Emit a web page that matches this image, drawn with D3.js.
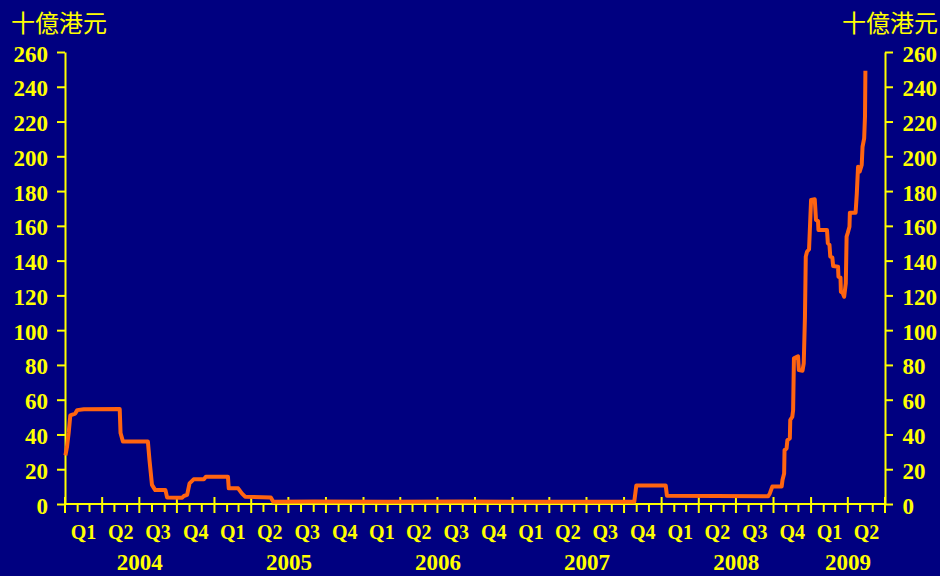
<!DOCTYPE html>
<html>
<head>
<meta charset="utf-8">
<script src="https://cdn.jsdelivr.net/npm/d3@7"></script>
<style>
  html, body { margin: 0; padding: 0; background: #000080; }
  svg { display: block; }
</style>
</head>
<body>
<svg id="chart" width="940" height="576"></svg>
<script>
// ---------------- DATA ----------------
const unitLabel = "十億港元";
const quarterNames = ["Q1", "Q2", "Q3", "Q4"];
const yearLabels = ["2004", "2005", "2006", "2007", "2008", "2009"];
const yTickValues = [0, 20, 40, 60, 80, 100, 120, 140, 160, 180, 200, 220, 240, 260];

const dates = [
  "2004-01-02", "2004-01-06", "2004-01-10", "2004-01-14", "2004-01-26", "2004-01-31",
  "2004-02-16", "2004-05-14", "2004-05-16", "2004-05-22", "2004-07-22", "2004-07-26",
  "2004-08-01", "2004-08-09", "2004-09-03", "2004-09-07", "2004-10-14", "2004-10-18",
  "2004-10-26", "2004-11-01", "2004-11-11", "2004-12-06", "2004-12-11",
  "2005-02-03", "2005-02-05", "2005-02-28", "2005-03-09", "2005-03-17", "2005-05-19",
  "2005-05-25", "2005-09-01", "2006-03-01", "2006-09-01", "2007-03-01", "2007-10-26",
  "2007-10-31", "2008-01-11", "2008-01-14", "2008-09-18", "2008-09-22", "2008-09-28",
  "2008-10-21", "2008-10-23", "2008-10-27", "2008-10-28", "2008-11-02", "2008-11-04",
  "2008-11-10", "2008-11-11", "2008-11-16", "2008-11-18", "2008-11-20", "2008-11-30",
  "2008-12-02", "2008-12-11", "2008-12-14", "2008-12-17", "2008-12-19", "2008-12-22",
  "2008-12-27", "2009-01-01", "2009-01-10", "2009-01-13", "2009-01-18", "2009-01-19",
  "2009-02-09", "2009-02-11", "2009-02-15", "2009-02-17", "2009-02-22", "2009-02-24",
  "2009-03-08", "2009-03-09", "2009-03-14", "2009-03-15", "2009-03-19", "2009-03-23",
  "2009-03-27", "2009-03-29", "2009-04-01", "2009-04-05", "2009-04-06", "2009-04-20",
  "2009-04-23", "2009-04-26", "2009-04-30", "2009-05-05", "2009-05-07", "2009-05-11",
  "2009-05-13", "2009-05-14"
];
const balances = [
  28, 33, 41, 51, 52, 54,
  54.5, 54.6, 40.8, 35.9, 35.9, 25,
  11, 8, 8, 3.8, 3.6, 4.6,
  5.2, 11.9, 14.2, 14.2, 15.7,
  15.7, 9, 9, 6.1, 4.2, 3.8,
  1.3, 1.4, 1.3, 1.4, 1.3, 1.3,
  10.7, 10.7, 4.8, 4.5, 6.1, 10,
  10, 13.8, 17.6, 31, 32, 36.8,
  37.8, 48.3, 50.2, 54, 83.8, 85,
  77, 76.7, 80.9, 107.7, 142.3, 145.1,
  146.5, 174.9, 175.3, 163.4, 162.8, 157.6,
  157.6, 150, 149, 142.3, 141.9, 136.9,
  136.5, 130.8, 130.2, 122.1, 121.5, 119.2,
  127, 153.8, 156.1, 159.5, 167.6, 167.6,
  178.7, 194, 191.2, 195, 205.5, 210.3,
  222.8, 249.2
];

// ---------------- STYLE ----------------
const bg = "#000080";
const yellow = "#ffff00";
const lineColor = "#ff6410";
const serif = "'Liberation Serif', 'Times New Roman', serif";
const cjk = "'Noto Sans CJK TC', 'Noto Sans CJK SC', sans-serif";

const W = 940, H = 576;
const svg = d3.select("#chart");
svg.append("rect").attr("width", W).attr("height", H).attr("fill", bg);

const parse = d3.utcParse("%Y-%m-%d");
const start = parse("2004-01-01"), end = parse("2009-07-01");

const x = d3.scaleUtc().domain([start, end]).range([65, 885]);
const y = d3.scaleLinear().domain([0, 260]).range([504, 52]);

// ---------------- Y AXES ----------------
function styleAxis(g, anchor) {
  g.select(".domain").attr("stroke", yellow).attr("stroke-width", 2);
  g.selectAll(".tick line").attr("stroke", yellow).attr("stroke-width", 2);
  g.selectAll(".tick text")
    .attr("fill", yellow)
    .attr("font-family", serif)
    .attr("font-weight", "bold")
    .attr("font-size", 23)
    .attr("dy", null)
    .attr("y", 9)
    .attr("text-anchor", anchor);
}

const leftAxis = svg.append("g")
  .attr("transform", "translate(65,0)")
  .call(d3.axisLeft(y).tickValues(yTickValues).tickSize(8).tickSizeOuter(0).tickPadding(9).tickFormat(d3.format("d")));
styleAxis(leftAxis, "end");

const rightAxis = svg.append("g")
  .attr("transform", "translate(885,0)")
  .call(d3.axisRight(y).tickValues(yTickValues).tickSize(8).tickSizeOuter(0).tickPadding(9.5).tickFormat(d3.format("d")));
styleAxis(rightAxis, "start");

// ---------------- X AXIS ----------------
const xg = svg.append("g");
xg.append("line")
  .attr("x1", x(start)).attr("x2", x(end))
  .attr("y1", y(0)).attr("y2", y(0))
  .attr("stroke", yellow).attr("stroke-width", 2);

const months = d3.utcMonth.range(start, d3.utcDay.offset(end, 1));
xg.selectAll("line.mt").data(months).join("line")
  .attr("class", "mt")
  .attr("x1", d => x(d)).attr("x2", d => x(d))
  .attr("y1", d => d.getUTCMonth() % 3 === 0 ? y(0) - 7 : y(0))
  .attr("y2", d => d.getUTCMonth() % 3 === 0 ? y(0) + 9 : y(0) + 8)
  .attr("stroke", yellow).attr("stroke-width", 2);

// quarter labels
const quarters = d3.utcMonth.every(3).range(start, end);
xg.selectAll("text.q").data(quarters).join("text")
  .attr("class", "q")
  .attr("x", d => (x(d) + x(d3.utcMonth.offset(d, 3))) / 2)
  .attr("y", 539)
  .attr("text-anchor", "middle")
  .attr("fill", yellow)
  .attr("font-family", serif)
  .attr("font-weight", "bold")
  .attr("font-size", 20)
  .text(d => quarterNames[Math.floor(d.getUTCMonth() / 3)]);

// year labels
xg.selectAll("text.yr").data(yearLabels).join("text")
  .attr("class", "yr")
  .attr("x", d => {
    const a = parse(d + "-01-01");
    const b = d3.min([parse((+d + 1) + "-01-01"), end]);
    return (x(a) + x(b)) / 2;
  })
  .attr("y", 570)
  .attr("text-anchor", "middle")
  .attr("fill", yellow)
  .attr("font-family", serif)
  .attr("font-weight", "bold")
  .attr("font-size", 23)
  .text(d => d);

// unit labels
svg.append("text")
  .attr("x", 11).attr("y", 32)
  .attr("fill", yellow).attr("font-family", cjk).attr("font-size", 24)
  .text(unitLabel);
svg.append("text")
  .attr("x", 938).attr("y", 32)
  .attr("text-anchor", "end")
  .attr("fill", yellow).attr("font-family", cjk).attr("font-size", 24)
  .text(unitLabel);

// ---------------- LINE ----------------
const series = dates.map((d, i) => ({ date: parse(d), value: balances[i] }));
const line = d3.line().x(d => x(d.date)).y(d => y(d.value));
svg.append("path")
  .datum(series)
  .attr("d", line)
  .attr("fill", "none")
  .attr("stroke", lineColor)
  .attr("stroke-width", 4)
  .attr("stroke-linejoin", "round")
  .attr("stroke-linecap", "butt");
</script>
</body>
</html>
